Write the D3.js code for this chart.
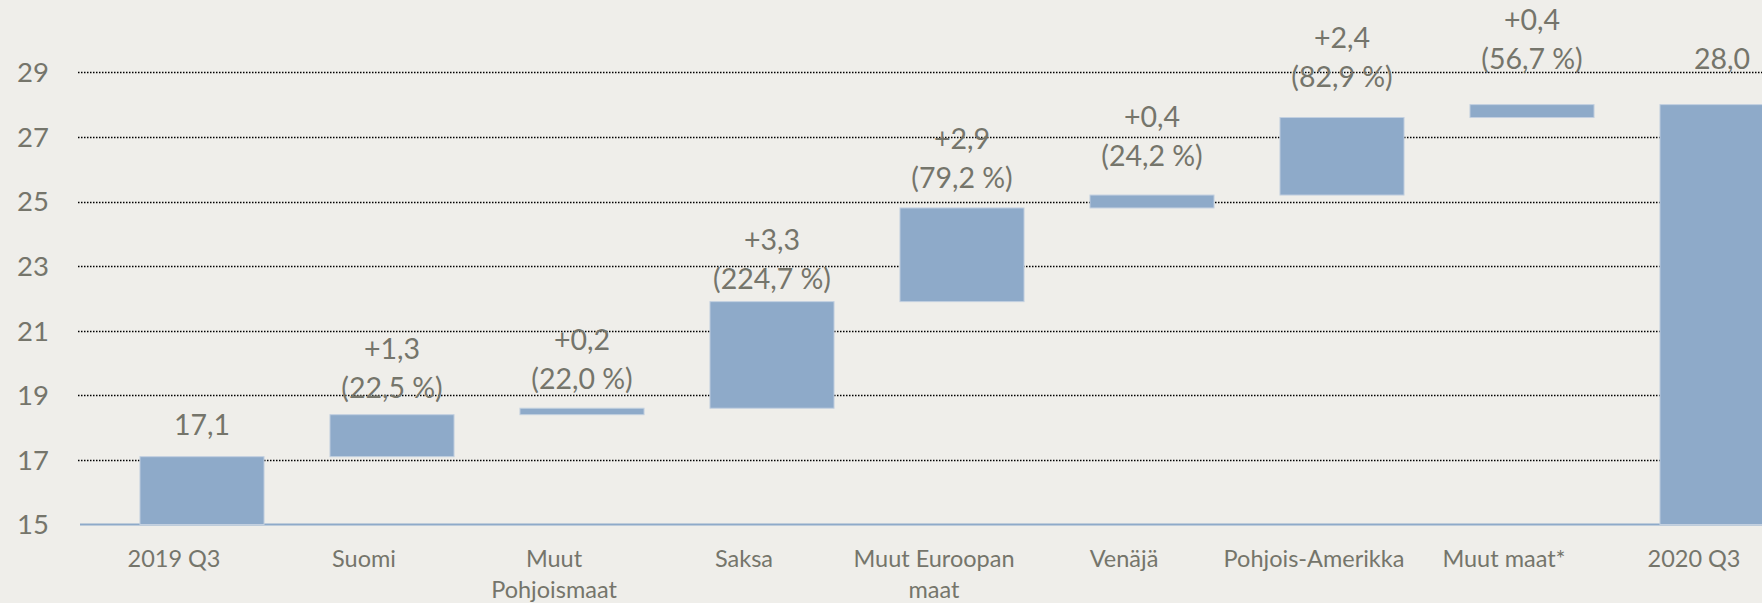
<!DOCTYPE html>
<html>
<head>
<meta charset="utf-8">
<script src="https://cdn.jsdelivr.net/npm/d3@7"></script>
<style>
  html, body { margin: 0; padding: 0; background: #efeeea; }
  svg { display: block; font-family: Lato, "Open Sans", sans-serif; }
</style>
</head>
<body>
<svg id="waterfall" width="1762" height="603"></svg>
<script>
var categories = ['2019 Q3', 'Suomi', 'Muut Pohjoismaat', 'Saksa', 'Muut Euroopan maat', 'Venäjä', 'Pohjois-Amerikka', 'Muut maat*', '2020 Q3'];
var categoryLines = [['2019 Q3'], ['Suomi'], ['Muut', 'Pohjoismaat'], ['Saksa'], ['Muut Euroopan', 'maat'], ['Venäjä'], ['Pohjois-Amerikka'], ['Muut maat*'], ['2020 Q3']];
var barKind = ['total', 'delta', 'delta', 'delta', 'delta', 'delta', 'delta', 'delta', 'total'];
var values = [17.1, 1.3, 0.2, 3.3, 2.9, 0.4, 2.4, 0.4, 28.0];
var growthPct = [null, 22.5, 22.0, 224.7, 79.2, 24.2, 82.9, 56.7, null];
var yTicks = [15, 17, 19, 21, 23, 25, 27, 29];

// gap (px) between bar top and the label's last baseline, as in the original
var labelGap = [22, 17, 19, 13, 20, 29, 31, 36, 36];

InitChart();

function InitChart() {
  var viz = d3.select('#waterfall'),
    WIDTH = 1762,
    TEXT = '#75756b',
    BAR = '#8eaac9',
    fi = d3.formatLocale({ decimal: ',', thousands: ' ', grouping: [3], currency: ['', ''] }),
    f1 = fi.format('.1f');

  // running start / end of each bar
  var plotData = [], run = 0;
  values.forEach(function(v, i) {
    var d = { cat: categories[i], i: i };
    if (barKind[i] === 'total') {
      d.y0 = 15; d.y1 = v; run = v;
    } else {
      d.y0 = run; d.y1 = run + v; run = d.y1;
    }
    d.v = v;
    plotData.push(d);
  });

  var xRange = d3.scaleBand()
      .domain(categories)
      .range([107, 107 + 190 * categories.length])
      .paddingInner(0.347)
      .paddingOuter(0.1735),
    yRange = d3.scaleLinear().domain([15, 29]).range([524.5, 72.3]);

  // dotted grid
  viz.append('g')
    .selectAll('line')
    .data(yTicks.filter(function(t) { return t > 15; }))
    .enter()
    .append('line')
    .attr('x1', 78)
    .attr('x2', WIDTH)
    .attr('y1', function(d) { return Math.round(yRange(d)) + 0.5; })
    .attr('y2', function(d) { return Math.round(yRange(d)) + 0.5; })
    .attr('stroke', '#000')
    .attr('stroke-width', 1.6)
    .attr('stroke-dasharray', '1.5,1.5');

  // baseline
  viz.append('line')
    .attr('x1', 80)
    .attr('x2', WIDTH)
    .attr('y1', yRange(15))
    .attr('y2', yRange(15))
    .attr('stroke', BAR)
    .attr('stroke-width', 2);

  // y labels
  viz.append('g')
    .selectAll('text')
    .data(yTicks)
    .enter()
    .append('text')
    .attr('x', 49)
    .attr('y', function(d) { return yRange(d); })
    .attr('dy', '0.36em')
    .attr('text-anchor', 'end')
    .attr('font-size', 27.5)
    .attr('fill', TEXT)
    .text(function(d) { return d; });

  // bars
  viz.append('g')
    .selectAll('rect')
    .data(plotData)
    .enter()
    .append('rect')
    .attr('x', function(d) { return xRange(d.cat); })
    .attr('y', function(d) { return yRange(Math.max(d.y0, d.y1)); })
    .attr('width', xRange.bandwidth())
    .attr('height', function(d) { return Math.abs(yRange(d.y0) - yRange(d.y1)); })
    .attr('fill', BAR)
    .attr('stroke', '#c3d0e0')
    .attr('stroke-width', 1);

  // value labels
  var lbl = viz.append('g')
    .selectAll('text')
    .data(plotData)
    .enter()
    .append('text')
    .attr('text-anchor', 'middle')
    .attr('font-size', 28.5)
    .attr('fill', TEXT)
    .attr('transform', function(d) {
      var cx = xRange(d.cat) + xRange.bandwidth() / 2;
      return 'translate(' + cx + ',' + (yRange(d.y1) - labelGap[d.i]) + ')';
    });

  lbl.each(function(d) {
    var t = d3.select(this);
    if (barKind[d.i] === 'total') {
      t.append('tspan').attr('x', 0).attr('y', 0).text(f1(d.v));
    } else {
      t.append('tspan').attr('x', 0).attr('y', -39).text('+' + f1(d.v));
      t.append('tspan').attr('x', 0).attr('y', 0).text('(' + f1(growthPct[d.i]) + ' %)');
    }
  });

  // category labels (sit a little left of the bars in the original)
  var cat = viz.append('g')
    .selectAll('text')
    .data(plotData)
    .enter()
    .append('text')
    .attr('text-anchor', 'middle')
    .attr('font-size', 23.5)
    .attr('fill', TEXT)
    .attr('transform', function(d) {
      return 'translate(' + (xRange(d.cat) + xRange.bandwidth() / 2 - 28) + ',567)';
    });

  cat.selectAll('tspan')
    .data(function(d) { return categoryLines[d.i]; })
    .enter()
    .append('tspan')
    .attr('x', 0)
    .attr('y', function(d, j) { return j * 31; })
    .text(function(d) { return d; });
}
</script>
</body>
</html>
